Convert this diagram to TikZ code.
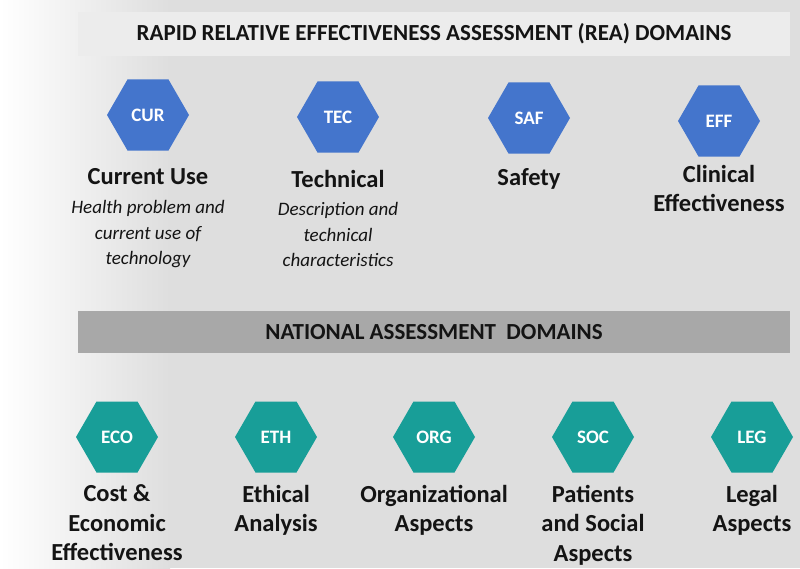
\documentclass[tikz,border=0pt]{standalone}
\usepackage{fontspec}
\setmainfont{Carlito}
\usepackage{tikz}
\usetikzlibrary{positioning,shapes.geometric}
\definecolor{reablue}{RGB}{68,117,204}
\definecolor{natteal}{RGB}{24,158,152}
\definecolor{bggray}{RGB}{222,222,222}
\definecolor{topbargray}{RGB}{236,236,236}
\definecolor{natbargray}{RGB}{168,168,168}
\definecolor{textdark}{RGB}{20,20,20}

\begin{document}
\begin{tikzpicture}[
    x=1pt, y=-1pt,
    node distance=16pt,
    headbar/.style={rectangle, minimum width=712pt, minimum height=44pt, inner sep=0pt,
                    font=\bfseries\fontsize{23}{27}\selectfont, text=textdark},
    hexa/.style={regular polygon, regular polygon sides=6, minimum size=82pt, inner sep=0pt,
                 text=white, font=\bfseries\fontsize{19}{22}\selectfont},
    reahex/.style={hexa, fill=reablue},
    nathex/.style={hexa, fill=natteal},
    domlabel/.style={align=center, inner sep=0pt, text=textdark,
                     font=\bfseries\fontsize{24.5}{29.5}\selectfont},
    desclabel/.style={align=center, inner sep=0pt, text=textdark,
                      font=\itshape\fontsize{19}{25.5}\selectfont}
]
    \useasboundingbox (0,0) rectangle (800,568);
    % Background
    \fill[bggray] (0,0) rectangle (800,568);
    \shade[left color=white, right color=bggray] (0,0) rectangle (170,568);

    % Header bars
    \node[headbar, fill=topbargray] (reabar) at (434,34)
        {RAPID RELATIVE EFFECTIVENESS ASSESSMENT (REA) DOMAINS};
    \node[headbar, fill=natbargray, minimum height=42pt] (natbar) at (434,332)
        {NATIONAL ASSESSMENT\ \ DOMAINS};

    % REA domains (top row)
    \node[reahex] (cur) at (148,115) {CUR};
    \node[reahex] (tec) at (338,117) {TEC};
    \node[reahex] (saf) at (529,118) {SAF};
    \node[reahex] (eff) at (719,121) {EFF};

    \node[domlabel, below=18pt of cur] (curname) {Current Use};
    \node[domlabel, below=17pt of tec] (tecname) {Technical};
    \node[domlabel, below=15pt of saf] (safname) {Safety};
    \node[domlabel, below=8pt of eff]  (effname) {Clinical\\Effectiveness};

    \node[desclabel, below=15pt of curname] (curdesc) {Health problem and\\current use of\\technology};
    \node[desclabel, below=15pt of tecname] (tecdesc) {Description and\\technical\\characteristics};

    % National domains (bottom row)
    \node[nathex] (eco) at (117,437) {ECO};
    \node[nathex] (eth) at (276,437) {ETH};
    \node[nathex] (org) at (434,437) {ORG};
    \node[nathex] (soc) at (593,437) {SOC};
    \node[nathex] (leg) at (752,437) {LEG};

    \node[domlabel, below=12pt of eco] (econame) {Cost \&\\Economic\\Effectiveness};
    \node[domlabel, below=12pt of eth] (ethname) {Ethical\\Analysis};
    \node[domlabel, below=12pt of org] (orgname) {Organizational\\Aspects};
    \node[domlabel, below=12pt of soc] (socname) {Patients\\and Social\\Aspects};
    \node[domlabel, below=12pt of leg] (legname) {Legal\\Aspects};
\end{tikzpicture}
\end{document}
